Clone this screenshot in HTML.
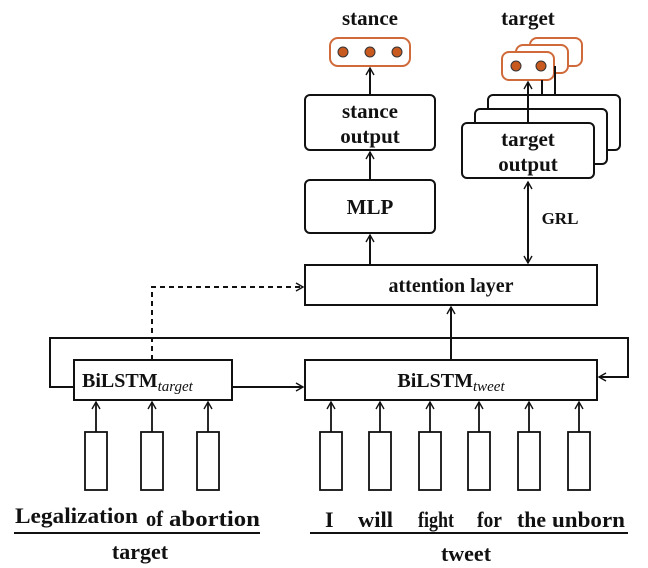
<!DOCTYPE html>
<html><head><style>body{margin:0;background:#fff}svg{display:block}text{font-family:"Liberation Serif",serif;font-weight:bold;fill:#111}</style></head>
<body>
<svg width="648" height="568" viewBox="0 0 648 568" xmlns="http://www.w3.org/2000/svg">
<defs><marker id="a" markerWidth="10" markerHeight="10" refX="8" refY="5" orient="auto" markerUnits="userSpaceOnUse"><path d="M1,1 L8,5 L1,9" fill="none" stroke="#111" stroke-width="1.4"/></marker>
<marker id="s" markerWidth="10" markerHeight="10" refX="2" refY="5" orient="auto" markerUnits="userSpaceOnUse"><path d="M9,1 L2,5 L9,9" fill="none" stroke="#111" stroke-width="1.4"/></marker></defs>
<g stroke="#111" stroke-width="2" fill="none">
<text x="370" y="25" font-size="21" text-anchor="middle" stroke="none">stance</text>
<text x="528" y="25" font-size="21" text-anchor="middle" stroke="none">target</text>
<rect x="330" y="38" width="80" height="28" rx="8" stroke="#d06a3a"/>
<circle cx="343" cy="52" r="5" fill="#c85a20" stroke="#333" stroke-width="1"/>
<circle cx="370" cy="52" r="5" fill="#c85a20" stroke="#333" stroke-width="1"/>
<circle cx="397" cy="52" r="5" fill="#c85a20" stroke="#333" stroke-width="1"/>
<rect x="530" y="38" width="52" height="28" rx="7" stroke="#d06a3a" fill="#fff"/>
<rect x="516" y="45" width="52" height="28" rx="7" stroke="#d06a3a" fill="#fff"/>
<rect x="502" y="52" width="52" height="28" rx="7" stroke="#d06a3a" fill="#fff"/>
<circle cx="516" cy="66" r="5" fill="#c85a20" stroke="#333" stroke-width="1"/>
<circle cx="541" cy="66" r="5" fill="#c85a20" stroke="#333" stroke-width="1"/>
<rect x="305" y="95" width="130" height="55" rx="5"/>
<text x="370" y="118" font-size="21" text-anchor="middle" stroke="none">stance</text>
<text x="370" y="143" font-size="21" text-anchor="middle" stroke="none">output</text>
<line x1="370" y1="95" x2="370" y2="68" marker-end="url(#a)"/>
<rect x="305" y="180" width="130" height="53" rx="5"/>
<text x="370" y="214" font-size="21" text-anchor="middle" stroke="none">MLP</text>
<line x1="370" y1="180" x2="370" y2="152" marker-end="url(#a)"/>
<line x1="555" y1="66" x2="555" y2="95"/><line x1="542" y1="80" x2="542" y2="109"/>
<rect x="488" y="95" width="132" height="55" rx="5" fill="#fff"/>
<rect x="475" y="109" width="132" height="55" rx="5" fill="#fff"/>
<rect x="462" y="123" width="132" height="55" rx="5" fill="#fff"/>
<line x1="528" y1="123" x2="528" y2="82" marker-end="url(#a)"/>
<text x="528" y="146" font-size="21" text-anchor="middle" stroke="none">target</text>
<text x="528" y="171" font-size="21" text-anchor="middle" stroke="none">output</text>
<line x1="528" y1="182" x2="528" y2="263" marker-start="url(#s)" marker-end="url(#a)"/>
<text x="560" y="224" font-size="17" text-anchor="middle" stroke="none">GRL</text>
<rect x="305" y="265" width="292" height="40"/>
<text x="451" y="292" font-size="20" text-anchor="middle" stroke="none">attention layer</text>
<line x1="370" y1="265" x2="370" y2="235" marker-end="url(#a)"/>
<path d="M152,360 V287 H303" stroke-dasharray="5,4" marker-end="url(#a)"/>
<line x1="451" y1="360" x2="451" y2="307" marker-end="url(#a)"/>
<path d="M74,387 H50 V338 H628 V377 H599" marker-end="url(#a)"/>
<rect x="74" y="360" width="158" height="40"/>
<text x="82" y="387" font-size="20" stroke="none">BiLSTM<tspan font-style="italic" font-weight="normal" font-size="15" dy="4">target</tspan></text>
<rect x="305" y="360" width="292" height="40"/>
<text x="451" y="387" font-size="20" text-anchor="middle" stroke="none">BiLSTM<tspan font-style="italic" font-weight="normal" font-size="15" dy="4">tweet</tspan></text>
<line x1="232" y1="387" x2="303" y2="387" marker-end="url(#a)"/>
<g stroke-width="1.8">
<rect x="85" y="432" width="22" height="58"/><rect x="141" y="432" width="22" height="58"/><rect x="197" y="432" width="22" height="58"/>
<line x1="96" y1="432" x2="96" y2="402" marker-end="url(#a)"/><line x1="152" y1="432" x2="152" y2="402" marker-end="url(#a)"/><line x1="208" y1="432" x2="208" y2="402" marker-end="url(#a)"/>
<rect x="320" y="432" width="22" height="58"/><rect x="369" y="432" width="22" height="58"/><rect x="419" y="432" width="22" height="58"/><rect x="468" y="432" width="22" height="58"/><rect x="518" y="432" width="22" height="58"/><rect x="568" y="432" width="22" height="58"/>
<line x1="331" y1="432" x2="331" y2="402" marker-end="url(#a)"/><line x1="380" y1="432" x2="380" y2="402" marker-end="url(#a)"/><line x1="430" y1="432" x2="430" y2="402" marker-end="url(#a)"/><line x1="479" y1="432" x2="479" y2="402" marker-end="url(#a)"/><line x1="529" y1="432" x2="529" y2="402" marker-end="url(#a)"/><line x1="579" y1="432" x2="579" y2="402" marker-end="url(#a)"/>
</g>
<g stroke="none" font-size="22">
<text x="15" y="523" textLength="123" lengthAdjust="spacingAndGlyphs">Legalization</text>
<text x="146" y="526" textLength="17" lengthAdjust="spacingAndGlyphs">of</text>
<text x="169" y="526" textLength="91" lengthAdjust="spacingAndGlyphs">abortion</text>
<text x="325" y="527">I</text>
<text x="358" y="527" textLength="35" lengthAdjust="spacingAndGlyphs">will</text>
<text x="418" y="527" textLength="36" lengthAdjust="spacingAndGlyphs">fight</text>
<text x="477" y="527" textLength="25" lengthAdjust="spacingAndGlyphs">for</text>
<text x="517" y="527" textLength="29" lengthAdjust="spacingAndGlyphs">the</text>
<text x="552" y="527" textLength="73" lengthAdjust="spacingAndGlyphs">unborn</text>
<text x="140" y="559" text-anchor="middle">target</text>
<text x="466" y="561" text-anchor="middle">tweet</text>
</g>
<line x1="14" y1="533" x2="260" y2="533"/>
<line x1="310" y1="533" x2="628" y2="533"/>
</g>
</svg>
</body></html>
